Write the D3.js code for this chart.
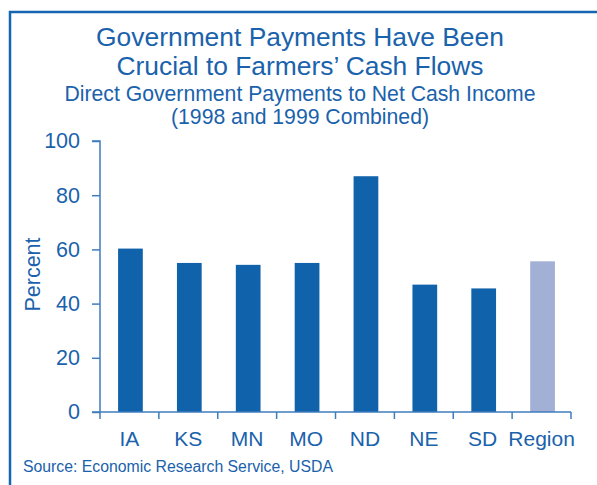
<!DOCTYPE html>
<html>
<head>
<meta charset="UTF-8">
<script src="https://d3js.org/d3.v7.min.js"></script>
<style>
    body { margin: 0; background: #fff; }
    text { font-family: "Liberation Sans", Arial, sans-serif; fill: #1a62ab; }
</style>
</head>
<body>
<div id="chart"></div>
<script>
const categories = ['IA', 'KS', 'MN', 'MO', 'ND', 'NE', 'SD', 'Region']
const values = [60.3, 55, 54.3, 55, 87, 47, 45.6, 55.6]
const yTicks = [0, 20, 40, 60, 80, 100]

const W = 597, H = 485
const svg = d3.select('#chart').append('svg').attr('width', W).attr('height', H)

// frame (right/bottom run off the picture)
svg.append('rect').attr('x', 10).attr('y', 12).attr('width', 620).attr('height', 500)
    .style('fill', 'none').style('stroke', '#1565b0').style('stroke-width', 2.5)

const titles = [
    ['Government Payments Have Been', 46, 26.4],
    ['Crucial to Farmers\u2019 Cash Flows', 75, 26.4],
    ['Direct Government Payments to Net Cash Income', 101, 21.2],
    ['(1998 and 1999 Combined)', 123.5, 21.2]
]
svg.selectAll('.title').data(titles).enter().append('text')
    .attr('x', 300).attr('y', d => d[1]).style('font-size', d => d[2] + 'px')
    .style('text-anchor', 'middle').text(d => d[0])

const x = d3.scaleBand().domain(categories).range([100, 571]).paddingInner(0.58).paddingOuter(0.29)
const y = d3.scaleLinear().domain([0, 100]).range([412, 141])

svg.selectAll('.bar').data(values).enter().append('rect')
    .attr('x', (d, i) => x(categories[i]) + 1).attr('width', x.bandwidth())
    .attr('y', d => y(d)).attr('height', d => y(0) - y(d))
    .style('fill', (d, i) => categories[i] === 'Region' ? '#a2b0d6' : '#1062aa')

// y axis
const yAxis = svg.append('g').attr('transform', 'translate(100,0)')
    .call(d3.axisLeft(y).tickValues(yTicks).tickSize(8).tickPadding(12))
yAxis.selectAll('text').style('font-size', '21.5px')
yAxis.select('.domain').attr('d', 'M-8,141H0V412')

// x axis with boundary ticks
const xAxis = svg.append('g').attr('transform', 'translate(0,412)')
    .call(d3.axisBottom(x).tickSize(0).tickPadding(19))
xAxis.selectAll('text').style('font-size', '21px')
xAxis.select('.domain').attr('d', 'M92,0H571')
const bounds = categories.map(c => x(c) - x.step() * x.paddingInner() / 2).concat([571])
bounds[0] = 100
xAxis.selectAll('.bound').data(bounds).enter().append('line')
    .attr('x1', d => d).attr('x2', d => d).attr('y1', 0).attr('y2', 7)
svg.selectAll('g .domain').style('stroke', '#3f7dbd').style('stroke-width', 1.5)
svg.selectAll('g line').style('stroke', '#3f7dbd').style('stroke-width', 1.5)

svg.append('text').attr('transform', 'translate(40,274.5) rotate(-90)')
    .style('text-anchor', 'middle').style('font-size', '21.5px').text('Percent')

svg.append('text').attr('x', 23).attr('y', 472).style('font-size', '15.8px')
    .text('Source: Economic Research Service, USDA')
</script>
</body>
</html>
